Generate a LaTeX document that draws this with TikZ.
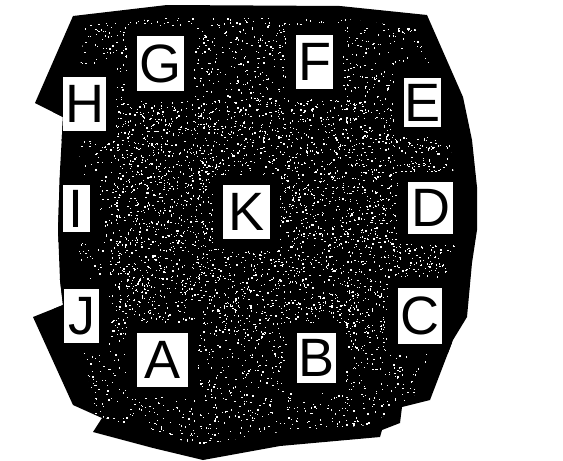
\documentclass[tikz,border=0pt]{standalone}
\usepackage{fontspec}
\setmainfont{Liberation Sans}
\begin{document}
\begin{tikzpicture}[x=1pt,y=-1pt,
  lbl/.style={fill=white, inner sep=0pt, font=\fontsize{54}{54}\selectfont,
              preaction={draw=black, line width=20pt}},
  blob/.style={fill=black},
  speck/.style={fill=white}]
\useasboundingbox (0,0) rectangle (563,461);
\begin{scope}
  \clip (73,16) -- (167,5) -- (340,6) -- (427,15) -- (463,97) -- (472,140) -- (477,187)
     -- (477,230) -- (472,263) -- (467,317) -- (453,340) -- (430,400) -- (402,407)
     -- (400,423) -- (382,430) -- (380,437) -- (280,446) -- (203,460) -- (153,448)
     -- (93,432) -- (102,418) -- (73,405) -- (33,317) -- (63,305) -- (60,280)
     -- (58,230) -- (60,170) -- (63,117) -- (35,103) -- cycle;
  \fill[blob] (0,0) rectangle (563,461);
  \begin{scope}
    \clip (85,25) -- (165,18) -- (340,18) -- (415,28) -- (445,100) -- (455,185)
       -- (455,260) -- (440,330) -- (415,395) -- (370,425) -- (280,432) -- (200,445)
       -- (150,432) -- (95,415) -- (80,330) -- (78,240) -- (80,140) -- (75,110) -- cycle;
    \pgfmathsetseed{7}
    \foreach \i in {1,...,4200} { \fill[speck] ({75+385*rnd},{15+430*rnd}) rectangle ++(1.3,1.3); }
    \foreach \i in {1,...,1800} { \fill[speck] ({110+330*rnd},{100+240*rnd}) rectangle ++(1.3,1.3); }
  \end{scope}
  \node[lbl, minimum width=47, minimum height=55] (G) at (160.5,63.5) {G};
  \node[lbl, minimum width=37, minimum height=54] (F) at (314.5,62) {F};
  \node[lbl, minimum width=33, minimum height=49] (E) at (422.5,102.5) {E};
  \node[lbl, minimum width=43, minimum height=54] (H) at (84.5,104) {H};
  \node[lbl, minimum width=27, minimum height=47] (I) at (76.5,208.5) {I};
  \node[lbl, minimum width=47, minimum height=54] (K) at (246.5,212) {K};
  \node[lbl, minimum width=45, minimum height=52] (D) at (430.5,208) {D};
  \node[lbl, minimum width=35, minimum height=54] (J) at (81.5,316) {J};
  \node[lbl, minimum width=51, minimum height=54] (A) at (162.5,360) {A};
  \node[lbl, minimum width=39, minimum height=50] (B) at (316.5,358) {B};
  \node[lbl, minimum width=44, minimum height=56] (C) at (420,316) {C};
\end{scope}
\end{tikzpicture}
\end{document}
